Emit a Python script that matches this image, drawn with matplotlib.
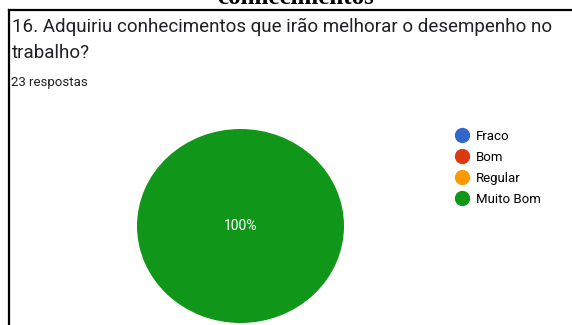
import matplotlib
matplotlib.use("Agg")
import matplotlib.pyplot as plt
from matplotlib.lines import Line2D

categorias = ['Fraco', 'Bom', 'Regular', 'Muito Bom']
respostas = [0, 0, 0, 23]
cores = ['#3366CC', '#DC3912', '#FF9900', '#109618']
titulo_1 = "16. Adquiriu conhecimentos que irão melhorar o desempenho no"
titulo_2 = "trabalho?"
total_txt = "23 respostas"

plt.rcParams['font.family'] = ['Roboto', 'DejaVu Sans']

W, H = 572, 325
fig = plt.figure(figsize=(W / 100, H / 100), dpi=100)

# moldura cortada (resto da captura)
fig.add_artist(Line2D([8.5 / W, 1], [1 - 10 / H, 1 - 10 / H], color='black', lw=1.6))
fig.add_artist(Line2D([8.5 / W, 8.5 / W], [0, 1 - 10 / H], color='black', lw=1.6))
fig.text(295 / W, 1 - 3.5 / H, "conhecimentos", ha='center', va='baseline',
         fontsize=18, fontweight='bold', family='Liberation Serif', color='black')

fig.text(12 / W, 1 - 32 / H, titulo_1, ha='left', va='baseline', fontsize=13.5,
         color='#202124')
fig.text(12 / W, 1 - 58 / H, titulo_2, ha='left', va='baseline', fontsize=13.5,
         color='#202124')
fig.text(11 / W, 1 - 86 / H, total_txt, ha='left', va='baseline', fontsize=9.5,
         color='#202124')

ax = fig.add_axes([137 / W, 2 / H, 207 / W, 194 / H])
wedges, texts, autotexts = ax.pie(
    respostas, colors=cores, startangle=90, counterclock=False,
    autopct=lambda p: f'{p:.0f}%' if p > 0 else '',
    pctdistance=0.0, wedgeprops={'linewidth': 0},
    textprops={'color': 'white', 'fontsize': 10})
ax.set_aspect('auto')
ax.set_xlim(-1, 1)
ax.set_ylim(-1, 1)

handles = [Line2D([], [], marker='o', linestyle='', markersize=10,
                  markerfacecolor=c, markeredgecolor=c) for c in cores]
fig.legend(handles, categorias, loc='upper left', bbox_to_anchor=(452 / W, 1 - 129.5 / H),
           frameon=False, fontsize=9.5, handletextpad=0.3, labelspacing=0.62,
           handlelength=1.5, borderaxespad=0, borderpad=0)

fig.savefig('out.png', dpi=100, facecolor='white')
